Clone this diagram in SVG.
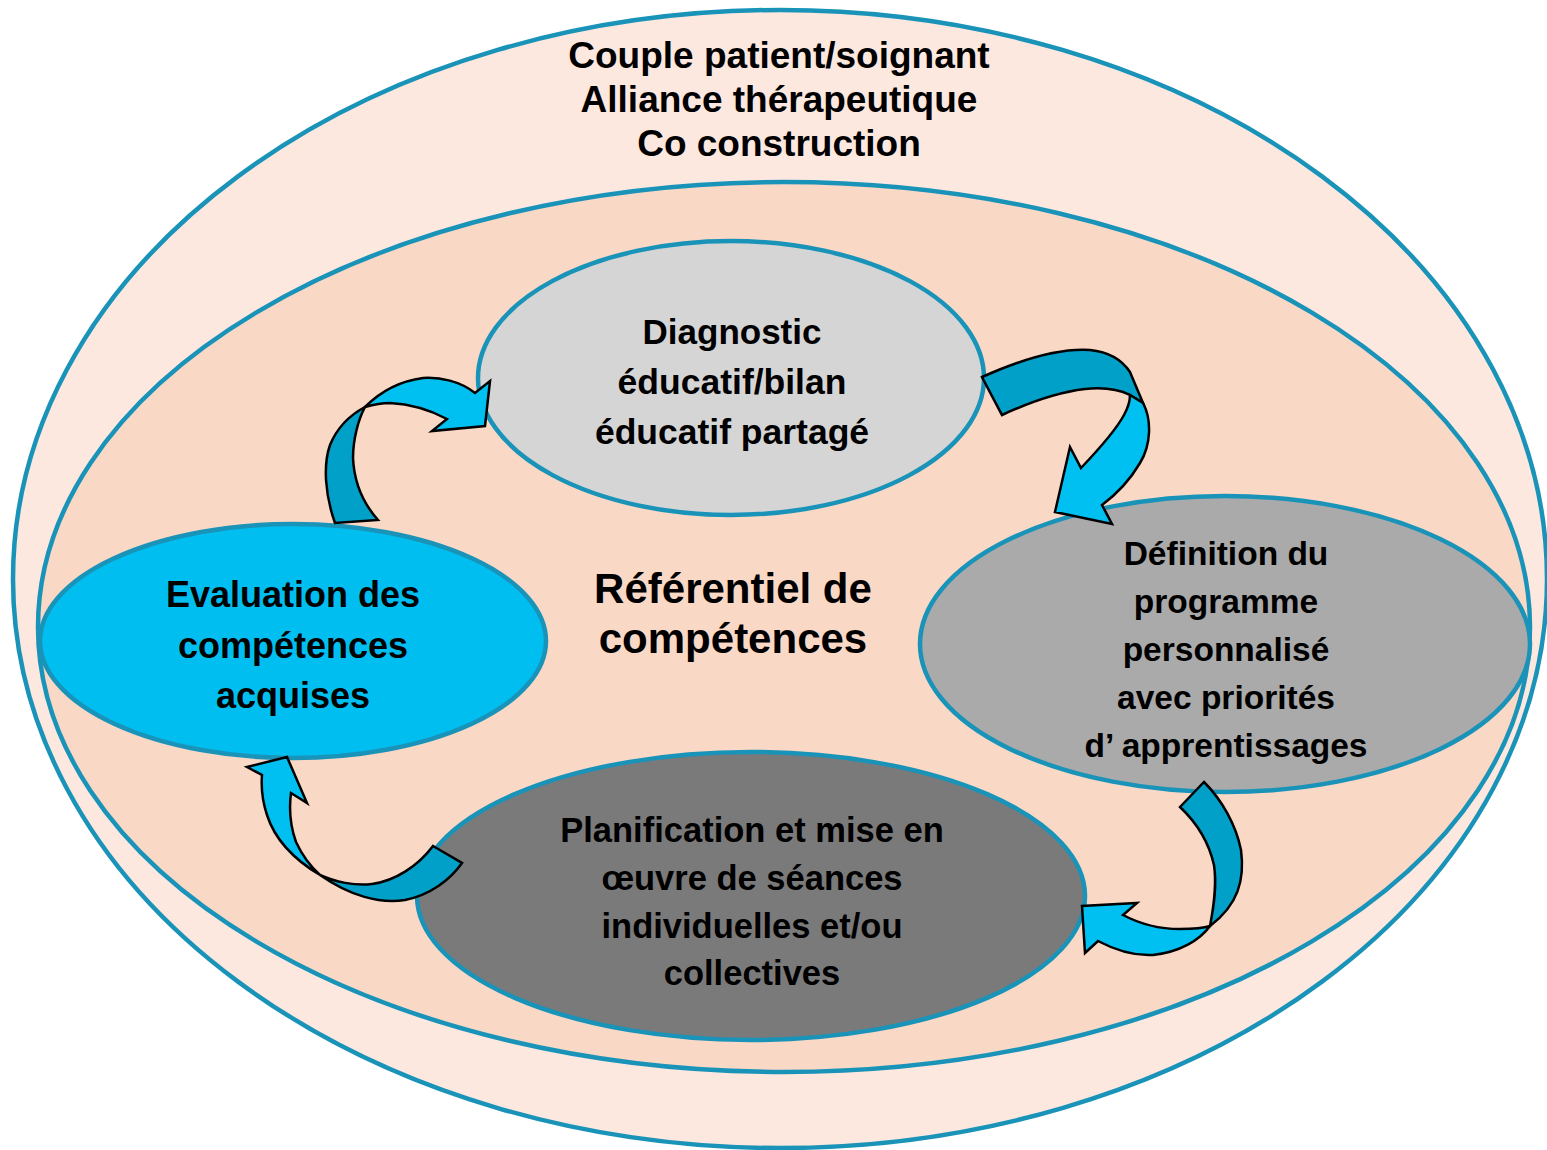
<svg xmlns="http://www.w3.org/2000/svg" width="1547" height="1150" viewBox="0 0 1547 1150">
<style>
.ring{stroke:#1a93b9;stroke-width:4.5}
.t{font-family:"Liberation Sans",Arial,sans-serif;font-weight:bold;fill:#000;text-anchor:middle}
.dk{fill:#00a0c8;stroke:#000;stroke-width:2.5;stroke-linejoin:miter}
.lt{fill:#00c0f2;stroke:#000;stroke-width:2.5;stroke-linejoin:miter}
</style>
<rect width="1547" height="1150" fill="#ffffff"/>
<g id="outer">
<ellipse class="ring" cx="780" cy="579" rx="767" ry="569" fill="#fde8e0"/>
<text class="t" x="779" y="68" font-size="37">Couple patient/soignant</text>
<text class="t" x="779" y="112" font-size="37">Alliance thérapeutique</text>
<text class="t" x="779" y="156" font-size="37">Co construction</text>
</g>
<g id="referentiel">
<ellipse class="ring" cx="784" cy="627" rx="746" ry="445" fill="#fad8c6"/>
<text class="t" x="733" y="603" font-size="42">Référentiel de</text>
<text class="t" x="733" y="653" font-size="42">compétences</text>
</g>
<g id="diagnostic">
<ellipse class="ring" cx="731" cy="378" rx="253" ry="137" fill="#d5d5d5"/>
<text class="t" x="732" y="344" font-size="35">Diagnostic</text>
<text class="t" x="732" y="394" font-size="35.5">éducatif/bilan</text>
<text class="t" x="732" y="444" font-size="35.5">éducatif partagé</text>
</g>
<g id="evaluation">
<ellipse class="ring" cx="293" cy="641" rx="253" ry="117" fill="#00bff0"/>
<text class="t" x="293" y="607" font-size="36">Evaluation des</text>
<text class="t" x="293" y="658" font-size="36">compétences</text>
<text class="t" x="293" y="708" font-size="36">acquises</text>
</g>
<g id="definition">
<ellipse class="ring" cx="1225" cy="644" rx="305" ry="148" fill="#aaaaaa"/>
<text class="t" x="1226" y="565" font-size="33.5">Définition du</text>
<text class="t" x="1226" y="613" font-size="33.5">programme</text>
<text class="t" x="1226" y="661" font-size="33.5">personnalisé</text>
<text class="t" x="1226" y="709" font-size="33.5">avec priorités</text>
<text class="t" x="1226" y="757" font-size="33.5">d’ apprentissages</text>
</g>
<g id="planification">
<ellipse class="ring" cx="751" cy="896" rx="334" ry="144" fill="#7a7a7a"/>
<text class="t" x="752" y="842" font-size="34.5">Planification et mise en</text>
<text class="t" x="752" y="890" font-size="34.5">œuvre de séances</text>
<text class="t" x="752" y="938" font-size="34.5">individuelles et/ou</text>
<text class="t" x="752" y="985" font-size="34.5">collectives</text>
</g>
<g id="connectors">
<g id="arrow-diag-def">
<path class="dk" d="M982,377 C1020,360 1060,348 1090,350 C1110,352 1122,360 1130,372 L1143,403 L1130,395 C1120,390 1105,387 1085,389 C1060,392 1030,402 1002,415 Z"/>
<path class="lt" d="M1130,395 L1143,403 C1152,420 1151,445 1140,463 C1130,480 1118,493 1102,505 L1112,524 L1055,512 L1070,447 L1081,468 C1100,448 1116,430 1124,415 C1129,406 1130,400 1130,395 Z"/>
</g>
<g id="arrow-def-plan">
<path class="dk" d="M1180,807 L1204,782 C1222,800 1236,825 1241,850 C1245,880 1238,905 1210,926 C1214,905 1217,885 1214,865 C1209,843 1197,823 1180,807 Z"/>
<path class="lt" d="M1210,926 C1200,940 1180,952 1153,955 C1135,956 1115,950 1098,941 L1085,953 L1082,906 L1137,903 L1123,915 C1140,924 1160,929 1180,929 C1195,929 1204,928 1210,926 Z"/>
</g>
<g id="arrow-plan-eval">
<path class="dk" d="M433,846 L462,863 C450,880 430,895 405,900 C380,904 350,896 320,875 C335,882 355,886 372,884 C395,881 418,866 433,846 Z"/>
<path class="lt" d="M320,875 C295,860 275,840 267,815 C262,800 261,788 262,775 L247,767 L287,757 L307,803 L291,793 C289,808 290,825 296,842 C302,855 310,866 320,875 Z"/>
</g>
<g id="arrow-eval-diag">
<path class="dk" d="M335,523 C325,495 323,465 330,445 C337,428 350,415 365,407 C358,420 353,440 353,458 C354,480 362,502 378,520 Z"/>
<path class="lt" d="M365,407 C380,392 400,381 423,378 C440,377 460,381 475,393 L490,381 L485,426 L432,431 L447,419 C430,410 410,404 390,403 C380,403 372,405 365,407 Z"/>
</g>
</g>
</svg>
